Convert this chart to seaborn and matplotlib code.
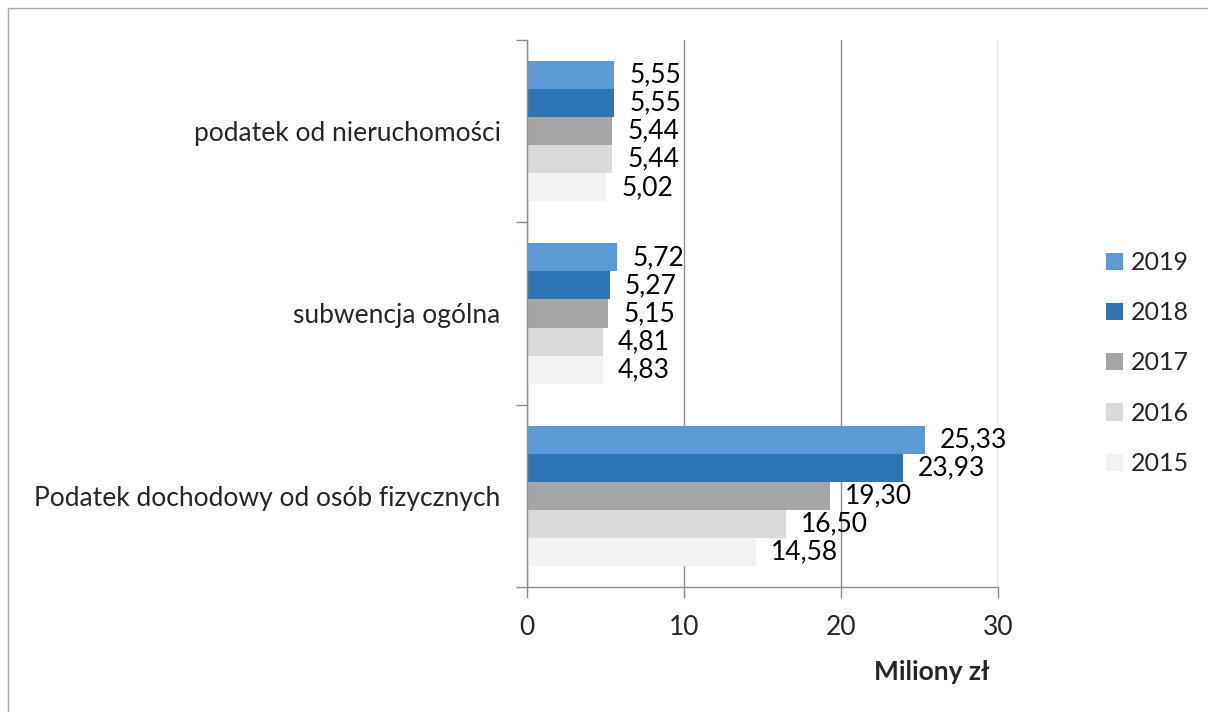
import matplotlib
matplotlib.use("Agg")
import matplotlib.pyplot as plt
import seaborn as sns
import pandas as pd
from matplotlib.patches import Rectangle

categories = ["podatek od nieruchomości", "subwencja ogólna", "Podatek dochodowy od osób fizycznych"]
years = ["2019", "2018", "2017", "2016", "2015"]
v2019 = [5.55, 5.72, 25.33]
v2018 = [5.55, 5.27, 23.93]
v2017 = [5.44, 5.15, 19.30]
v2016 = [5.44, 4.81, 16.50]
v2015 = [5.02, 4.83, 14.58]
colors = ["#5B9BD5", "#2E75B6", "#A5A5A5", "#D9D9D9", "#F2F2F2"]
xticks = [0, 10, 20, 30]
xlabel = "Miliony zł"

series = {"2019": v2019, "2018": v2018, "2017": v2017, "2016": v2016, "2015": v2015}
rows = []
for y in years:
    for c, v in zip(categories, series[y]):
        rows.append({"cat": c, "year": y, "val": v})
df = pd.DataFrame(rows)

sns.set_theme(style="white")
plt.rcParams["font.family"] = ["Lato", "DejaVu Sans"]

FS = 19
fig = plt.figure(figsize=(12.08, 7.12), dpi=100)
ax = fig.add_axes([527/1208, 1-587/712, (998-527)/1208, (587-40)/712])

sns.barplot(data=df, y="cat", x="val", hue="year", order=categories, hue_order=years,
            palette=colors, width=0.77, orient="h", ax=ax, errorbar=None, saturation=1,
            linewidth=0, legend=True)

for cont in ax.containers:
    ax.bar_label(cont, labels=[f"{v:.2f}".replace(".", ",") for v in cont.datavalues],
                 padding=11, fontsize=FS, color="black")

ax.set_xlim(0, 30)
ax.set_ylim(2.5, -0.5)
ax.set_xticks(xticks)
ax.set_xticklabels([str(t) for t in xticks], fontsize=FS)
ax.tick_params(axis="x", which="major", length=8, width=1, color="#8C8C8C", pad=12, direction="out", bottom=True)
ax.tick_params(axis="y", which="major", length=0, pad=19, labelsize=FS)
ax.set_yticks([-0.5, 0.5, 1.5, 2.5], minor=True)
ax.tick_params(axis="y", which="minor", length=8, width=1, color="#8C8C8C", left=True, direction="out")
ax.xaxis.grid(True, color="#8C8C8C", linewidth=1)
ax.set_axisbelow(True)
for s in ["top", "right"]:
    ax.spines[s].set_visible(False)
for s in ["left", "bottom"]:
    ax.spines[s].set_color("#8C8C8C")
    ax.spines[s].set_linewidth(1)
ax.set_xlabel("")
ax.set_ylabel("")

ax.legend(loc="center left", bbox_to_anchor=(1106/1208, 1-363/712), bbox_transform=fig.transFigure,
          frameon=False, fontsize=18, handlelength=0.68, handleheight=0.68, handletextpad=0.32,
          labelspacing=1.09, borderaxespad=0, borderpad=0)

fig.text(932/1208, 1-672/712, xlabel, fontsize=FS, fontweight="bold", ha="center", va="center")

fig.patches.append(Rectangle((8/1208, -0.1), 1.2, 1.1 - 8/712, transform=fig.transFigure,
                             fill=False, edgecolor="#A6A6A6", linewidth=1, clip_on=False))

fig.savefig("out.png", dpi=100)
